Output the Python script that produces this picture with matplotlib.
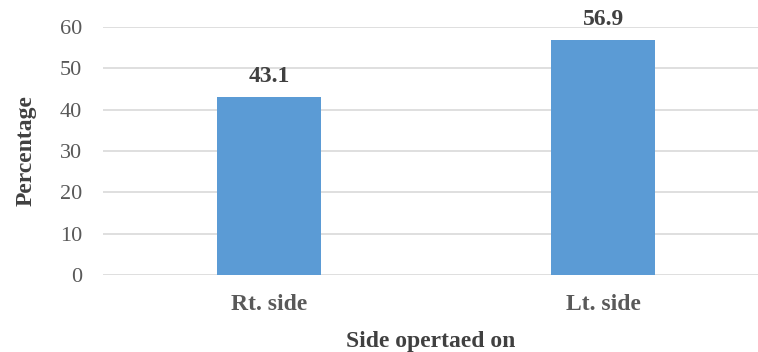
import matplotlib
matplotlib.use("Agg")
import matplotlib.pyplot as plt

sides = ["Rt. side", "Lt. side"]
percent = [43.1, 56.9]
yticks = [0, 10, 20, 30, 40, 50, 60]

plt.rcParams['font.family'] = ['Liberation Serif', 'DejaVu Serif']

W, H = 758, 352
fig = plt.figure(figsize=(W / 100, H / 100), dpi=100)
# axes box in pixel coords (left 103, right 758, bottom y=275, top y=27)
ax = fig.add_axes([103 / W, 1 - 275 / H, (758 - 103) / W, (275 - 27) / H])

x = range(len(sides))
bars = ax.bar(x, percent, width=0.311, color='#5b9bd5', zorder=3)

ax.set_xlim(-0.496, 1.462)
ax.set_ylim(0, 60)
ax.set_yticks(yticks)
ax.yaxis.grid(True, color='#d9d9d9', linewidth=1.2, zorder=0)
for s in ax.spines.values():
    s.set_visible(False)
ax.tick_params(axis='both', length=0)
ax.tick_params(axis='y', pad=15, labelsize=16, labelcolor='#595959')
ax.set_xticks(list(x))
ax.set_xticklabels(sides, fontsize=17, fontweight='bold', color='#595959')
ax.tick_params(axis='x', pad=14)

for b, v in zip(bars, percent):
    ax.annotate(f"{v}", (b.get_x() + b.get_width() / 2, v), xytext=(0, 7),
                textcoords='offset points', ha='center', va='bottom',
                fontsize=17, fontweight='bold', color='#404040')

ax.set_ylabel("Percentage", fontsize=17, fontweight='bold', color='#404040', labelpad=17)
ax.set_xlabel("Side opertaed on", fontsize=17, fontweight='bold', color='#404040', labelpad=11)

fig.savefig("out.png", dpi=100)
